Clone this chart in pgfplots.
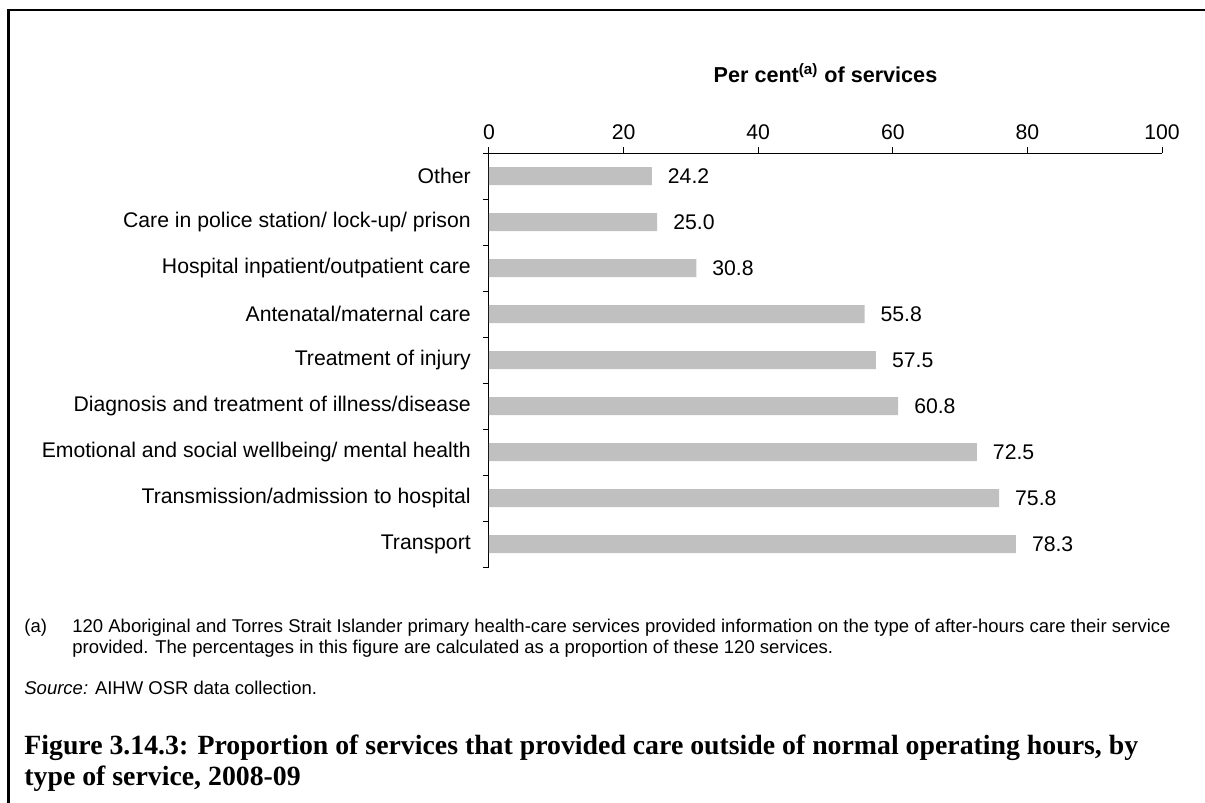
\documentclass[border=0pt]{standalone}
\usepackage{fontspec}
\setmainfont{Liberation Sans}
\newfontfamily\titlefont{Liberation Serif}
\usepackage{pgfplots}
\pgfplotsset{compat=1.18}
\definecolor{bargray}{HTML}{C0C0C0}
\begin{document}
\begin{tikzpicture}
\useasboundingbox (0,0) rectangle (602.5pt,-401.5pt);
\draw[line width=1.2pt] (4.3pt,-402pt) -- (4.3pt,-5pt) -- (603pt,-5pt);
\begin{axis}[
  at={(244.5pt,-76.5pt)}, anchor=north west,
  scale only axis, width=336.5pt, height=207pt,
  xbar, bar width=9pt,
  xmin=0, xmax=100,
  ymin=0.5, ymax=9.5, y dir=reverse,
  axis x line*=top, axis y line*=left,
  axis line style={black, line width=0.5pt},
  xtick={0,20,...,100},
  ytick={1,...,9},
  yticklabels={Other, Care in police station/ lock-up/ prison, Hospital inpatient/outpatient care, Antenatal/maternal care, Treatment of injury, Diagnosis and treatment of illness/disease, Emotional and social wellbeing/ mental health, Transmission/admission to hospital, Transport},
  minor ytick={0.5,1.5,...,9.5},
  tick align=outside,
  major tick length=3pt, minor tick length=3pt,
  tick style={line width=0.5pt, color=black},
  every major y tick/.append style={draw=none, opacity=0},
  /pgf/number format/assume math mode=true,
  ticklabel style={font=\fontsize{10.6}{12.5}\selectfont},
  yticklabel style={xshift=-2.6pt},
  xlabel={\textbf{Per cent\textsuperscript{(a)} of services}},
  xlabel style={font=\fontsize{10.8}{12.5}\selectfont, at={(axis description cs:0.5,1)}, anchor=base, yshift=35.5pt},
  point meta=x,
  nodes near coords={\pgfmathprintnumber[fixed,fixed zerofill,precision=1]{\pgfplotspointmeta}},
  nodes near coords style={anchor=west, font=\fontsize{10.6}{12.5}\selectfont, xshift=4.5pt, black},
]
\addplot[fill=bargray, draw=none] coordinates {(24.2,1) (25.0,2) (30.8,3) (55.8,4) (57.5,5) (60.8,6) (72.5,7) (75.8,8) (78.3,9)};
\end{axis}
\begin{scope}[every node/.style={inner sep=0pt, font=\fontsize{9.25}{11}\selectfont}]
\node[anchor=base west] at (12pt,-316pt) {(a)};
\node[anchor=base west] at (36pt,-316pt) {120 Aboriginal and Torres Strait Islander primary health-care services provided information on the type of after-hours care their service};
\node[anchor=base west] at (36pt,-326.5pt) {provided. The percentages in this figure are calculated as a proportion of these 120 services.};
\node[anchor=base west] at (12pt,-347pt) {\textit{Source:} AIHW OSR data collection.};
\end{scope}
\begin{scope}[every node/.style={inner sep=0pt, font=\titlefont\bfseries\fontsize{13.9}{16}\selectfont}]
\node[anchor=base west] at (12pt,-377pt) {Figure 3.14.3: Proportion of services that provided care outside of normal operating hours, by};
\node[anchor=base west] at (12pt,-392.5pt) {type of service, 2008-09};
\end{scope}
\end{tikzpicture}
\end{document}
